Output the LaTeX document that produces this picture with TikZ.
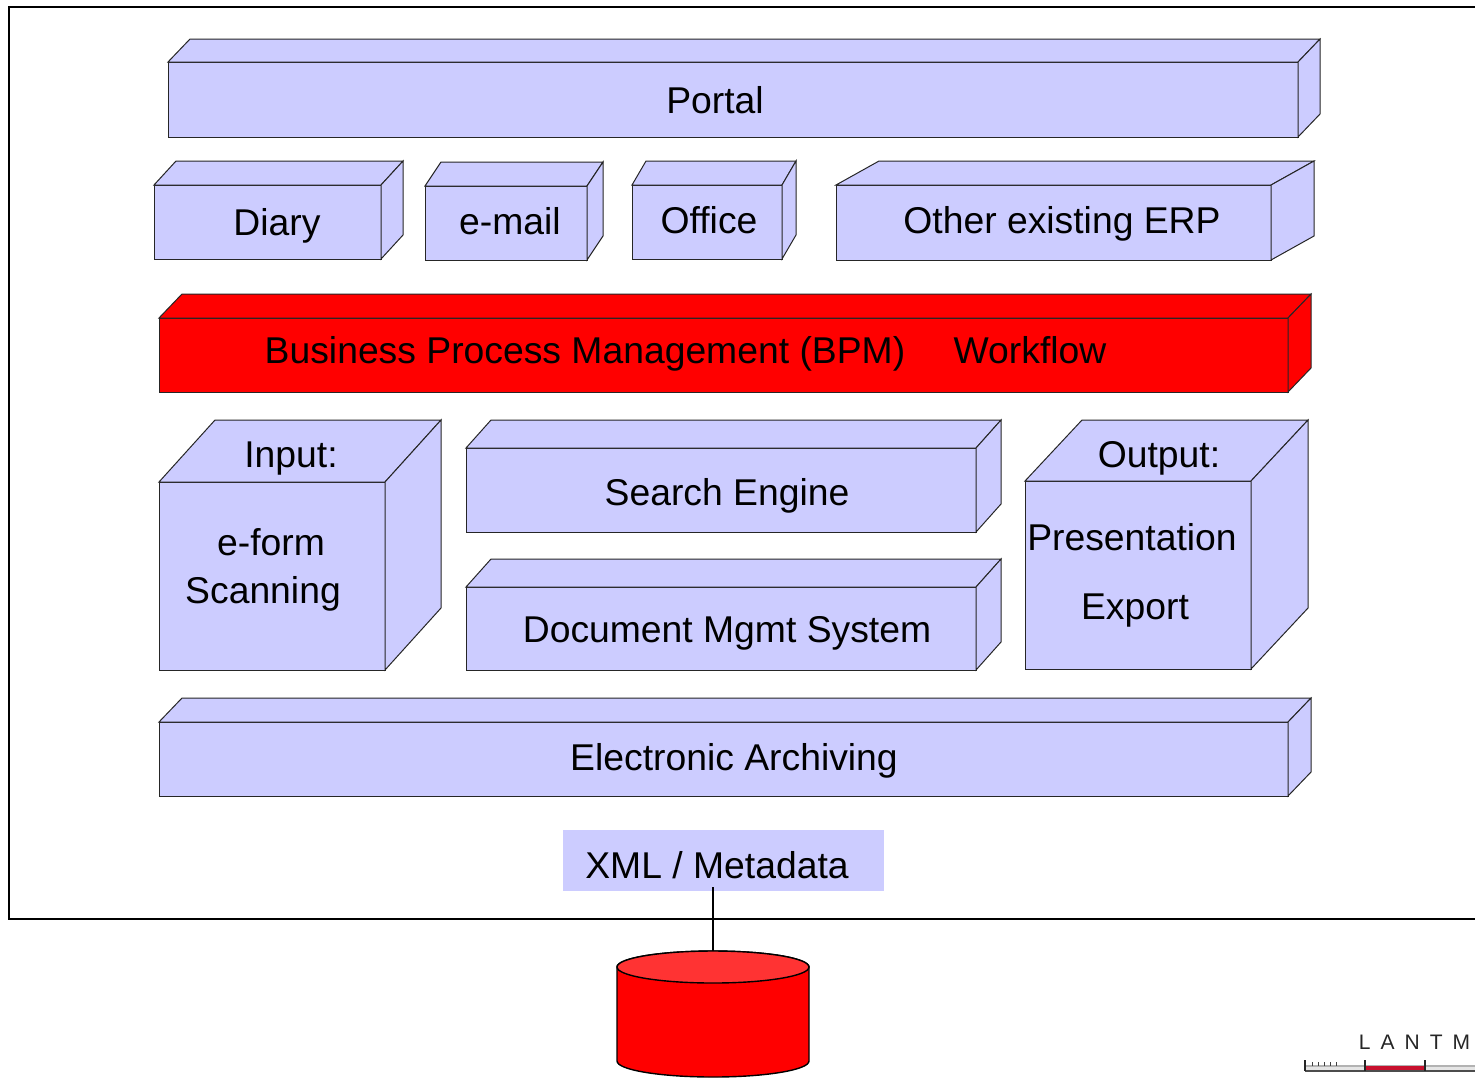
\documentclass[tikz,border=0pt]{standalone}
\usepackage{fontspec}
\setmainfont{Liberation Sans}
\usepackage{tikz}
\definecolor{boxblue}{HTML}{CCCCFF}
\definecolor{dbtopred}{HTML}{FF3333}
\definecolor{logored}{HTML}{C8102E}
\def\solidbox[#1](#2,#3,#4,#5)(#6,#7){
	\draw[solidface, fill=#1] (#2, #3) rectangle (#4, #5);
	\draw[solidface, fill=#1] (#2, #3) -- ({#2+#6}, {#3-#7}) -- ({#4+#6}, {#3-#7}) -- (#4, #3) -- cycle;
	\draw[solidface, fill=#1] (#4, #3) -- ({#4+#6}, {#3-#7}) -- ({#4+#6}, {#5-#7}) -- (#4, #5) -- cycle;
}
\tikzset{
	solidface/.style={line width=0.5pt, color=black!85, line join=miter},
	boxlabel/.style={anchor=base, inner sep=0pt, font=\fontsize{18.65}{22}\selectfont},
}

\begin{document}
\begin{tikzpicture}[x=0.5pt, y=-0.5pt]
		%%%%% START %%%%%
		\useasboundingbox (0, 0) rectangle (1475, 1077);

		\draw[line width=0.8pt] (1475, 7) -- (9, 7) -- (9, 919) -- (1475, 919);

		\solidbox[boxblue](168, 62, 1298, 137)(22, 23);

		\solidbox[boxblue](154, 185, 381, 259)(22, 24);
		\solidbox[boxblue](425, 186, 587, 260)(16, 24);
		\solidbox[boxblue](632, 185, 782, 259)(14, 24);
		\solidbox[boxblue](836, 185, 1271, 260)(43, 24);

		\solidbox[red](159, 318, 1288, 392)(23, 24);

		\solidbox[boxblue](159, 482, 385, 670)(56, 62);
		\solidbox[boxblue](466, 448, 976, 532)(25, 28);
		\solidbox[boxblue](466, 587, 976, 670)(25, 28);
		\solidbox[boxblue](1025, 481, 1251, 669)(57, 61);

		\solidbox[boxblue](159, 722, 1288, 796)(23, 24);

		\node[boxlabel] (portal) at (715, 113) {Portal};
		\node[boxlabel] (diary) at (277, 235) {Diary};
		\node[boxlabel] (email) at (510, 234) {e-mail};
		\node[boxlabel] (office) at (709, 233) {Office};
		\node[boxlabel] (erp) at (1062, 233) {Other existing ERP};
		\node[boxlabel] (bpm) at (585, 363) {Business Process Management (BPM)};
		\node[boxlabel] (workflow) at (1030, 363) {Workflow};
		\node[boxlabel] (input) at (291, 467) {Input:};
		\node[boxlabel] (eform) at (271, 555) {e-form};
		\node[boxlabel] (scanning) at (263, 603) {Scanning};
		\node[boxlabel] (search) at (727, 505) {Search Engine};
		\node[boxlabel] (dms) at (727, 642) {Document Mgmt System};
		\node[boxlabel] (output) at (1159, 467) {Output:};
		\node[boxlabel] (presentation) at (1132, 550) {Presentation};
		\node[boxlabel] (export) at (1135, 619) {Export};
		\node[boxlabel] (archiving) at (734, 770) {Electronic Archiving};

		\fill[boxblue] (563, 830) rectangle (884, 891);
		\node[boxlabel] (xml) at (717, 878) {XML / Metadata};

		\draw[line width=0.7pt, fill=red] (617, 967) -- (617, 1061) arc (180:0:96 and 16) -- (809, 967) arc (0:-180:96 and 16) -- cycle;
		\draw[line width=0.7pt, fill=dbtopred] (713, 967) ellipse (96 and 16);
		\coordinate (xmltap) at (713, 887);
		\coordinate (dbtop) at (713, 951);
		\draw[line width=0.7pt] (xmltap) -- (dbtop);

		\node[anchor=base, inner sep=0pt, color=black!85, font=\fontsize{10.5}{12}\selectfont] (lantm) at (1414.5, 1049) {L\hspace{5pt}A\hspace{5pt}N\hspace{5pt}T\hspace{5pt}M};

		\fill[black!30] (1305, 1064.5) rectangle (1475, 1071);
		\fill[black!10] (1305, 1067) rectangle (1475, 1070);
		\fill[logored] (1365, 1066) rectangle (1425, 1071);
		\draw[line width=0.6pt, color=black!70] (1305, 1071) -- (1475, 1071);
		\draw[line width=0.6pt, color=black!85] (1305, 1060) -- (1305, 1071);
		\draw[line width=0.6pt, color=black!85] (1365, 1060) -- (1365, 1071);
		\draw[line width=0.6pt, color=black!85] (1425, 1060) -- (1425, 1071);
		\foreach \tickx in {1312, 1318, 1324, 1330, 1336} {
			\draw[line width=0.5pt, color=black!75] (\tickx, 1062) -- (\tickx, 1066);
		}
		%%%%% END %%%%%
	\end{tikzpicture}
\end{document}
